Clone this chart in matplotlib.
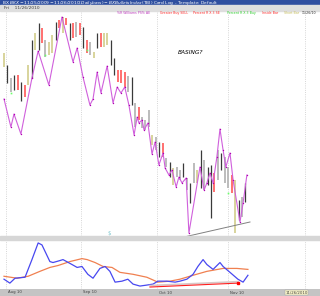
import matplotlib
matplotlib.use("Agg")

import matplotlib.pyplot as plt
import numpy as np
from matplotlib.patches import Rectangle

# --- price bars (one per trading day), arbitrary chart units ---
bar_high = [187, 175, 162, 165, 165, 158, 155, 175, 200, 207, 217, 212, 200, 198, 205,
            218, 220, 223, 222, 217, 217, 218, 217, 213, 200, 198, 188, 207, 207, 207,
            207, 200, 182, 170, 170, 168, 164, 163, 137, 133, 123, 120, 130, 105, 103,
            98, 97, 82, 78, 72, 73, 70, 77, 62, 57, 77, 70, 90, 80, 73,
            75, 67, 90, 87, 83, 73, 65, 60, 40, 43, 57]
bar_low = [173, 157, 148, 150, 150, 139, 143, 155, 162, 190, 190, 197, 183, 185, 187,
           200, 212, 207, 215, 200, 202, 203, 205, 192, 187, 185, 182, 192, 193, 193,
           195, 175, 165, 158, 157, 153, 148, 135, 113, 120, 112, 110, 113, 95, 90,
           83, 83, 73, 63, 55, 63, 60, 63, 50, 37, 57, 57, 52, 50, 55,
           22, 48, 60, 70, 57, 52, 47, 7, 20, 23, 38]
bar_kind = "ykgkrkrykykrgyykryrkrgrkrgykryykkrrrgkgrgggygkrgkyggkgkgykgkkrgkggrykgk"
green_days = [2, 12, 24, 65]
green_vals = [147, 185, 190, 47]

# --- %R Williams line (vertices) ---
wr_day = [0, 2, 2.9, 4.9, 8.1, 9.9, 13, 16.8, 20, 21.2, 22.9, 24.9, 25.8, 27, 28.1,
          29.9, 31.6, 32.8, 33.9, 35, 36.2, 37.7, 38.6, 39.1, 40, 40.6, 41.7, 42.9,
          43.8, 44.9, 46.1, 46.7, 47.8, 48.7, 49.9, 50.7, 51.6, 52.8, 53.6, 56.8, 58,
          58.8, 59.7, 60.6, 61.7, 62.6, 63.5, 64.3, 65.5, 66.4, 68.4, 69.3, 70.4]
wr_val = [141, 113, 126, 106, 162, 189, 155, 223, 178, 192, 163, 135, 141, 168, 147,
          174, 137, 153, 147, 153, 135, 105, 123, 117, 120, 110, 117, 86,
          98, 75, 87, 72, 65, 70, 53, 63, 57, 62, 7, 73, 50,
          57, 67, 57, 83, 111, 90, 73, 87, 60, 18, 37, 65]

trend_day = [52.2, 71.3]
trend_val = [3, 18]

# --- lower panel oscillators ---
blue_day = [0, 1.7, 3.2, 6.1, 8.1, 9.9, 11, 13.3, 14.2, 16.2, 17.1, 19.7, 21.2, 22.6,
            24.3, 25.8, 27.8, 29.3, 30.7, 32.2, 34.2, 35.9, 37.4, 39.4, 41.4, 43.2,
            44.6, 47.2, 49.6, 51, 53, 54.8, 56.2, 57.7, 58.8, 60.6, 62.6, 63.5, 65.5,
            67.8, 69.3, 70.7]
blue_val = [10, 6, 11, 12, 30, 47, 45, 28, 27, 29, 30, 25, 22, 23,
            15, 11, 21, 23, 18, 7, 8, 10, 5, 3, 4, 5,
            8, 8, 7, 8, 10, 15, 23, 30, 25, 20, 27, 23, 17,
            10, 7, 14]
orange_day = [0, 3.8, 7, 10.4, 13.3, 15.7, 19.1, 22.6, 24.1, 26.4, 28.7, 31.3, 33.6,
              37.4, 41.4, 44.6, 48.1, 51, 54.8, 58.8, 63.5, 67.5, 70.7]
orange_val = [13, 11, 13, 18, 22, 24, 28, 31, 30, 27, 23, 22, 17,
              15, 12, 7, 8, 10, 14, 18, 21, 21, 20]
red_day = [42.3, 67.8]
red_val = [2, 6]

month_pos = [0.6, 22.3, 44.3, 64.9, 87.2]
month_lab = ["Aug 10", "Sep 10", "Oct 10", "Nov 10", ""]

kind_color = {"k": "#3a3a3a", "g": "#bcbcbc", "r": "#ff7070", "y": "#d8d49c"}

W, H = 320, 296
fig = plt.figure(figsize=(W / 100, H / 100), dpi=100)
fig.patch.set_facecolor("white")


def box(x0, y0, x1, y1):
    return [x0 / W, 1 - y1 / H, (x1 - x0) / W, (y1 - y0) / H]


# header strips
fig.patches.append(Rectangle((0, 1 - 5 / H), 1, 5 / H, transform=fig.transFigure,
                             color="#2f4fa0", zorder=0))
fig.patches.append(Rectangle((0, 1 - 11 / H), 1, 6 / H, transform=fig.transFigure,
                             color="#dedede", zorder=0))
fig.text(2 / W, 1 - 2.6 / H, "BX $BKX - 11/25/2009 - 11/26/2010 (Daily bars) - BX Bullets Index ($TBI) Card Log - Template: Default",
         color="white", fontsize=3.2, va="center", ha="left")
fig.text(4 / W, 1 - 8 / H, "Fri    11/26/2010", color="#404040", fontsize=3.2,
         va="center", ha="left")

xlim = (-4 / 3.45, (W - 4) / 3.45)

# main panel
ax = fig.add_axes(box(0, 11, W, 236))
ax.set_xlim(*xlim)
ax.set_ylim(4, 229)
for s in ax.spines.values():
    s.set_visible(False)
ax.set_xticks([])
ax.set_yticks([])
for p in month_pos:
    ax.axvline(p, color="#c8c8c8", lw=0.6, ls=":", zorder=0)

days = np.arange(len(bar_high))
for d, hi, lo, k in zip(days, bar_high, bar_low, bar_kind):
    lw = 0.9 if k == "k" else 1.4
    ax.vlines(d, lo, hi, color=kind_color[k], lw=lw, zorder=2)
ax.plot(green_days, green_vals, ls="none", marker="s", ms=1.2, color="#6cff6c",
        mec="none", zorder=3)

ax.plot(wr_day, wr_val, color="#d060dc", lw=0.8, zorder=4)
ax.plot(wr_day, wr_val, ls="none", marker="o", ms=1.0, color="#b000b0", mec="none",
        zorder=5)
ax.plot(trend_day, trend_val, color="#808080", lw=0.7, zorder=3)

ax.text(50.4, 188, "BASING?", fontsize=4.2, style="italic", color="black",
        ha="left", va="center")
ax.text(30.6, 4.5, "$", fontsize=4, color="#80c8d0", ha="center", va="bottom")

legend_items = [(117, "%R Williams PS% AE", "#c040c0"),
                (160, "Greater Buy SELL", "#ff3030"),
                (193, "Percent R X 3 SE", "#ff3030"),
                (227, "Percent R X 3 Buy", "#30d030"),
                (262, "Inside Bar", "#ff3030"),
                (284, "Short Bar", "#c8c060"),
                (302, "11/26/10", "#303030")]
for x, t, c in legend_items:
    fig.text(x / W, 1 - 13 / H, t, color=c, fontsize=2.3, va="center", ha="left")

# separator
fig.patches.append(Rectangle((0, 1 - 240 / H), 1, 4 / H, transform=fig.transFigure,
                             color="#d6d6d6", zorder=0))

# lower panel
ax2 = fig.add_axes(box(0, 240, W, 289))
ax2.set_xlim(*xlim)
ax2.set_ylim(0, 50)
for s in ax2.spines.values():
    s.set_visible(False)
ax2.set_xticks([])
ax2.set_yticks([])
for p in month_pos:
    ax2.axvline(p, color="#c8c8c8", lw=0.6, ls=":", zorder=0)
ax2.plot(orange_day, orange_val, color="#f08050", lw=0.9)
ax2.plot(blue_day, blue_val, color="#4848f0", lw=0.9)
ax2.plot(red_day, [v + 1.5 for v in red_val], color="#d8c8c8", lw=1.2)
ax2.plot(red_day, red_val, color="#ff2020", lw=0.8)
ax2.plot(red_day[-1:], red_val[-1:], ls="none", marker="s", ms=1.8, color="#ff0000")

# date band
ax3 = fig.add_axes(box(0, 289, W, H))
ax3.set_xlim(*xlim)
ax3.set_ylim(0, 1)
ax3.set_facecolor("#c4c4c4")
for s in ax3.spines.values():
    s.set_visible(False)
ax3.set_xticks([])
ax3.set_yticks([])
for p, lab in zip(month_pos, month_lab):
    ax3.text(p + 0.5, 0.5, lab, fontsize=2.8, color="#404040", va="center", ha="left")
ax3.text(81.5, 0.5, "11/26/2010", fontsize=2.8, color="#404040", va="center",
         ha="left", bbox=dict(boxstyle="square,pad=0.15", fc="#f8f4c8", ec="#a0a0a0",
                              lw=0.3))

fig.savefig("out.png", dpi=100)
